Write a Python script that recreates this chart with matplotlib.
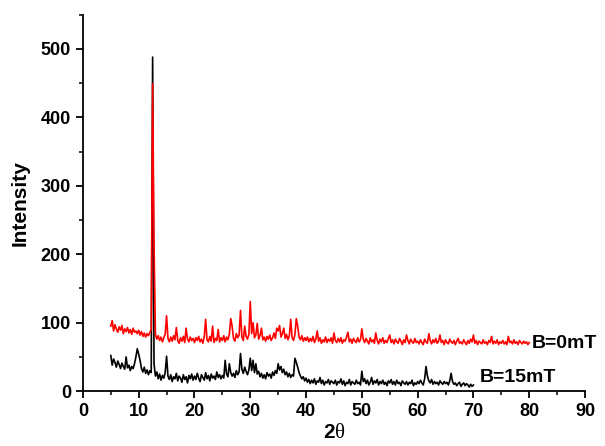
import matplotlib.pyplot as plt
import numpy as np
from matplotlib.ticker import MultipleLocator

plt.rcParams['font.family'] = ['Liberation Sans', 'DejaVu Sans']
plt.rcParams['mathtext.fontset'] = 'custom'
plt.rcParams['mathtext.rm'] = 'Liberation Serif'
plt.rcParams['mathtext.bf'] = 'Liberation Sans:bold'

# 2theta grid step 0.25 deg
step = 0.25
x_red = np.arange(5, 80 + step / 2, step)
x_black = np.arange(5, 70 + step / 2, step)

# B=0mT, 5.00 .. 80.00
y_red = [
    95, 103, 88, 97, 91, 86, 94, 89, 96, 84, 91, 87, 93, 85, 90, 83, 92, 86, 88, 84,
    89, 82, 87, 80, 85, 79, 84, 81, 86, 90, 449, 215, 83, 76, 81, 74, 79, 72, 78, 83,
    110, 77, 72, 79, 73, 81, 75, 93, 74, 70, 78, 73, 80, 71, 92, 76, 72, 79, 74, 77,
    71, 78, 74, 80, 72, 76, 70, 79, 105, 75, 72, 80, 73, 95, 71, 77, 74, 90, 72, 78,
    74, 81, 72, 79, 75, 83, 106, 95, 77, 73, 84, 78, 82, 118, 79, 74, 95, 80, 76, 83,
    131, 84, 100, 78, 82, 99, 76, 81, 92, 75, 79, 73, 80, 76, 82, 74, 78, 85, 77, 92,
    88, 96, 79, 84, 92, 77, 83, 75, 81, 105, 78, 74, 82, 106, 95, 79, 75, 81, 73, 78,
    74, 79, 72, 77, 73, 80, 71, 76, 88, 73, 78, 70, 75, 72, 79, 71, 76, 73, 78, 70,
    85, 74, 71, 77, 72, 78, 70, 75, 73, 79, 86, 72, 76, 70, 77, 73, 71, 78, 72, 75,
    91, 76, 71, 77, 73, 69, 78, 72, 75, 70, 85, 74, 69, 76, 72, 78, 70, 74, 71, 77,
    82, 71, 75, 69, 76, 72, 70, 77, 73, 68, 75, 71, 82, 74, 69, 76, 72, 70, 77, 71,
    73, 69, 75, 71, 68, 76, 72, 70, 84, 74, 69, 75, 71, 77, 70, 73, 82, 71, 74, 68,
    75, 71, 69, 76, 72, 70, 74, 68, 73, 77, 70, 72, 69, 75, 71, 68, 74, 70, 76, 72,
    82, 70, 74, 68, 73, 71, 69, 75, 70, 72, 68, 74, 71, 80, 69, 73, 70, 75, 68, 72,
    70, 74, 69, 72, 68, 80, 71, 73, 69, 75, 70, 72, 68, 74, 71, 69, 73, 70, 72, 68,
    71,
]

# B=15mT, 5.00 .. 70.00
y_black = [
    52, 38, 47, 42, 35, 44, 39, 33, 41, 36, 32, 50, 34, 38, 30, 36, 33, 40, 50, 62,
    54, 45, 33, 28, 35, 26, 31, 24, 30, 27, 488, 40, 22, 28, 18, 25, 16, 23, 19, 27,
    51, 22, 17, 24, 14, 21, 18, 26, 15, 22, 19, 13, 24, 17, 21, 12, 23, 18, 25, 16,
    22, 17, 26, 19, 14, 24, 20, 16, 27, 18, 23, 15, 25, 19, 22, 17, 28, 20, 24, 18,
    23, 19, 45, 25, 21, 40, 27, 22, 26, 20, 30, 24, 28, 55, 32, 26, 35, 29, 24, 31,
    48, 30, 45, 27, 40, 25, 29, 21, 26, 19, 24, 18, 27, 22, 25, 19, 28, 23, 30, 26,
    40, 31, 36, 27, 32, 24, 28, 21, 26, 20, 24, 22, 48, 42, 35, 27, 22, 18, 21, 15,
    19, 13, 17, 11, 16, 12, 18, 10, 15, 13, 20, 11, 16, 9, 14, 12, 17, 10, 15, 13,
    11, 16, 9, 14, 12, 18, 10, 15, 8, 13, 11, 17, 9, 14, 12, 10, 16, 11, 13, 9,
    29, 14, 18, 11, 16, 9, 13, 20, 10, 15, 12, 17, 9, 14, 11, 16, 10, 13, 8, 15,
    12, 17, 10, 14, 9, 16, 11, 13, 8, 15, 12, 10, 14, 9, 13, 11, 16, 8, 12, 10,
    14, 11, 16, 12, 9, 18, 36, 22, 15, 12, 17, 10, 14, 11, 13, 9, 15, 12, 10, 14,
    11, 13, 9, 15, 26, 14, 10, 12, 8, 11, 13, 7, 10, 12, 8, 11, 9, 6, 10, 7,
    9,
]

fig = plt.figure(figsize=(6.05, 4.46), dpi=100)
ax = fig.add_axes([0.137, 0.123, 0.830, 0.844])

ax.plot(x_black, y_black, color='black', linewidth=1.2)
ax.plot(x_red, y_red, color='red', linewidth=1.2)

ax.text(80.5, 70, 'B=0mT', fontsize=14, fontweight='bold', va='center', ha='left')
ax.text(71.2, 20, 'B=15mT', fontsize=14, fontweight='bold', va='center', ha='left')

ax.set_xlim(0, 90)
ax.set_ylim(0, 550)
ax.xaxis.set_major_locator(MultipleLocator(10))
ax.xaxis.set_minor_locator(MultipleLocator(5))
ax.yaxis.set_major_locator(MultipleLocator(100))
ax.yaxis.set_minor_locator(MultipleLocator(50))

for side in ['top', 'right']:
    ax.spines[side].set_visible(False)
for side in ['left', 'bottom']:
    ax.spines[side].set_linewidth(1.3)

ax.tick_params(which='major', direction='out', length=5, width=1.3, labelsize=13)
ax.tick_params(which='minor', direction='out', length=3, width=1.1)
for lab in ax.get_xticklabels() + ax.get_yticklabels():
    lab.set_fontweight('bold')

ax.set_xlabel(r'$\mathbf{2}\mathrm{\theta}$', fontsize=15, labelpad=2)
ax.set_ylabel('Intensity', fontsize=15, fontweight='bold', labelpad=8)

plt.savefig('out.png', dpi=100)
